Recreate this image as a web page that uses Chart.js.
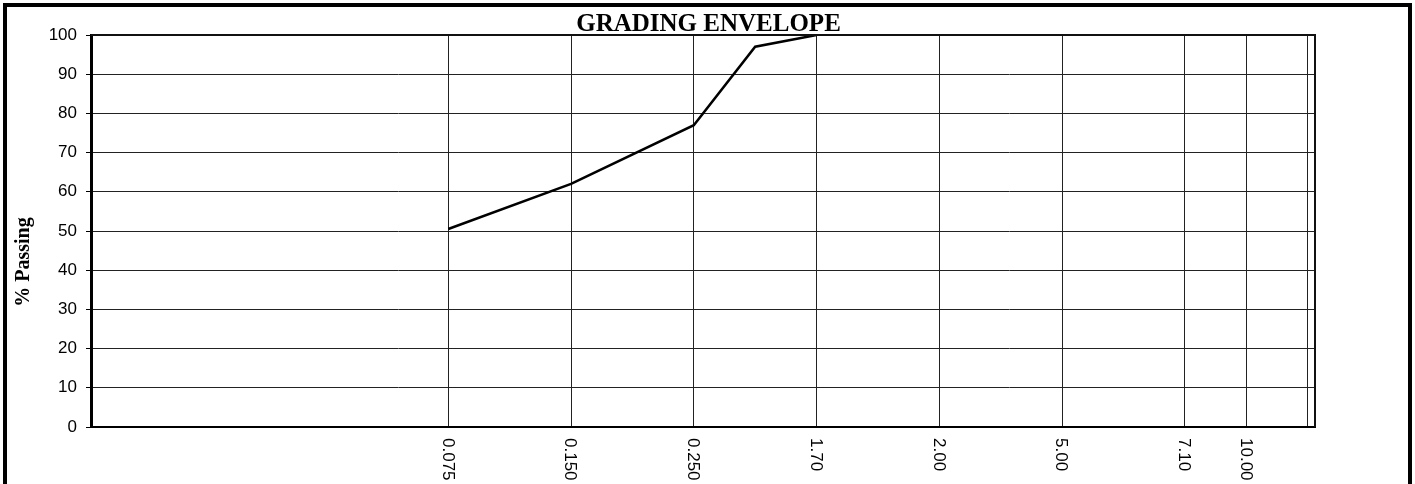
<!DOCTYPE html>
<html>
<head>
<meta charset="utf-8">
<title>Grading Envelope</title>
<script src="https://cdn.jsdelivr.net/npm/chart.js@4"></script>
<style>
    body { margin: 0; background: #fff; }
    #wrap { position: relative; width: 1415px; height: 484px; overflow: hidden; }
    #frame {
        position: absolute; left: 3px; top: 3px; width: 1401px; height: 520px;
        border: 4px solid #000; border-bottom: none; pointer-events: none;
    }
</style>
</head>
<body>
<div id="wrap">
    <canvas id="gradingChart" width="1415" height="484"></canvas>
    <div id="frame"></div>
</div>
<script>
// sieve sizes (mm) along the axis, blank = unlabelled sieve
const sieveLabels = ['0.075', '', '0.150', '', '0.250', '', '1.70', '', '2.00', '', '5.00', '', '7.10', '10.00', ''];
// % passing per sieve, null = no result
const percentPassing = [50.5, null, 62, null, 77, 97, 100, null, null, null, null, null, null, null, null];
const yTicks = [0, 10, 20, 30, 40, 50, 60, 70, 80, 90, 100];

const chartTitle = 'GRADING ENVELOPE';
const yTitle = '% Passing';

document.addEventListener("DOMContentLoaded", function() {
    Chart.defaults.font.family = "'Liberation Sans', Arial, sans-serif";
    Chart.defaults.color = '#000';

    const points = [];
    percentPassing.forEach((v, i) => {
        if (v !== null) points.push({ x: i, y: v });
    });

    // title, y title, plot frame and the rotated sieve labels
    const decorations = {
        id: 'decorations',
        afterDraw(chart) {
            const ctx = chart.ctx;
            const area = chart.chartArea;
            const xScale = chart.scales.x;

            ctx.save();
            ctx.strokeStyle = '#111';
            ctx.lineWidth = 2;
            ctx.beginPath();
            ctx.moveTo(area.left, area.top);
            ctx.lineTo(area.right, area.top);
            ctx.lineTo(area.right, area.bottom);
            ctx.stroke();

            ctx.fillStyle = '#000';
            ctx.font = "bold 25px 'Liberation Serif', 'Times New Roman', serif";
            ctx.textAlign = 'center';
            ctx.textBaseline = 'alphabetic';
            ctx.fillText(chartTitle, chart.width / 2 + 1, 31);

            ctx.save();
            ctx.translate(24, (area.top + area.bottom) / 2 + 31);
            ctx.rotate(-Math.PI / 2);
            ctx.font = "bold 20px 'Liberation Serif', 'Times New Roman', serif";
            ctx.textBaseline = 'middle';
            ctx.fillText(yTitle, 0, 0);
            ctx.restore();

            ctx.font = "17px 'Liberation Sans', Arial, sans-serif";
            ctx.textAlign = 'left';
            ctx.textBaseline = 'middle';
            xScale.ticks.forEach(t => {
                const label = sieveLabels[t.value];
                if (!label) return;
                ctx.save();
                ctx.translate(xScale.getPixelForValue(t.value) - 1, area.bottom + 11);
                ctx.rotate(Math.PI / 2);
                ctx.fillText(label, 0, 0);
                ctx.restore();
            });
            ctx.restore();
        }
    };

    const ctx = document.getElementById('gradingChart').getContext('2d');
    new Chart(ctx, {
        type: 'line',
        data: {
            datasets: [{
                label: yTitle,
                data: points,
                borderColor: '#000',
                borderWidth: 2.5,
                pointRadius: 0,
                tension: 0,
                fill: false
            }]
        },
        options: {
            responsive: false,
            animation: false,
            layout: { padding: { left: 0, top: 35, right: 100, bottom: 57 } },
            plugins: {
                legend: { display: false },
                title: { display: false },
                tooltip: { enabled: false }
            },
            scales: {
                x: {
                    type: 'linear',
                    bounds: 'data',
                    min: -5.82,
                    max: 14.12,
                    afterBuildTicks: scale => {
                        const last = sieveLabels.length - 1;
                        scale.ticks = sieveLabels
                            .map((l, i) => ({ value: i, label: l }))
                            .filter(t => t.label !== '' || t.value === last);
                    },
                    afterFit: scale => { scale.height = 0; },
                    ticks: { display: false },
                    grid: { color: '#222', lineWidth: 1, drawTicks: false },
                    border: { display: true, color: '#000', width: 2 }
                },
                y: {
                    min: 0,
                    max: 100,
                    afterBuildTicks: scale => {
                        scale.ticks = yTicks.map(v => ({ value: v }));
                    },
                    afterFit: scale => { scale.width = 91; },
                    ticks: { font: { size: 17 }, padding: 9, color: '#000' },
                    grid: { color: '#222', lineWidth: 1, tickLength: 5, tickColor: '#000' },
                    border: { display: true, color: '#000', width: 3 }
                }
            }
        },
        plugins: [decorations]
    });
});
</script>
</body>
</html>
